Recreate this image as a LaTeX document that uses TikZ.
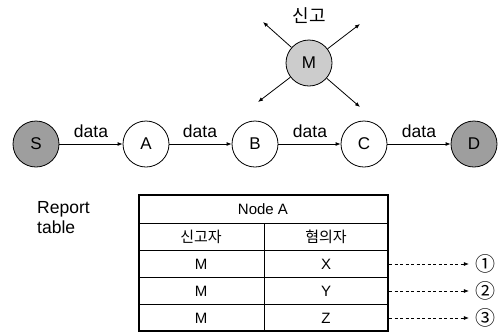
\documentclass[tikz,border=0pt]{standalone}
\usepackage{fontspec}
\setmainfont{Liberation Sans}
\newfontfamily\kr{Noto Sans CJK KR}
\usetikzlibrary{arrows.meta}
\begin{document}
\begin{tikzpicture}[x=1pt,y=-1pt,
  peer/.style={circle,draw,line width=0.8pt,minimum size=46pt,inner sep=0pt,font=\fontsize{17}{19}\selectfont},
  endpt/.style={peer,fill=black!38},
  rogue/.style={peer,fill=black!20},
  link/.style={line width=0.8pt,-{Latex[length=5pt,width=4pt]}},
  lbl/.style={font=\fontsize{17.5}{20}\selectfont,inner sep=0pt},
  cell/.style={font=\fontsize{15}{17}\selectfont,inner sep=0pt},
  krcell/.style={cell,font=\kr\fontsize{15}{17}\selectfont},
  num/.style={cell,font=\kr\fontsize{20}{22}\selectfont},
  ref/.style={line width=0.6pt,dash pattern=on 3pt off 2.5pt,shorten >=6pt,-{Latex[length=5pt,width=4pt]}}]
\useasboundingbox (0,0) rectangle (500,333);

% route nodes
\node[endpt] (S) at (36,144) {S};
\node[peer]  (A) at (146,144) {A};
\node[peer]  (B) at (255,144) {B};
\node[peer]  (C) at (364,144) {C};
\node[endpt] (D) at (474,144) {D};

\draw[link] (S) -- (A);
\draw[link] (A) -- (B);
\draw[link] (B) -- (C);
\draw[link] (C) -- (D);

\node[lbl] (d1) at (91,131) {data};
\node[lbl] (d2) at (200,131) {data};
\node[lbl] (d3) at (310,131) {data};
\node[lbl] (d4) at (419,131) {data};

% reporting node and its broadcast
\node[rogue] (M) at (309,63) {M};
\node[font=\kr\fontsize{18}{20}\selectfont,inner sep=0pt] (rep) at (309,16) {신고};
\coordinate (ul) at (263,22);
\coordinate (ur) at (360,24);
\coordinate (ll) at (258,102);
\coordinate (lr) at (360,107);
\foreach \t in {ul,ur,ll,lr}
  \draw[link] (M) -- (\t);

% report table
\node[lbl,align=left,anchor=north west] (cap) at (37,201) {Report\\table};
\draw[line width=1.6pt] (139,195) rectangle (388,331);
\draw[line width=0.8pt] (139,223) -- (388,223);
\draw[line width=0.8pt] (139,250) -- (388,250);
\draw[line width=0.8pt] (139,277) -- (388,277);
\draw[line width=0.8pt] (139,304) -- (388,304);
\draw[line width=0.8pt] (264,223) -- (264,331);

\node[cell] (hd) at (263,209) {Node A};
\node[krcell] (h1) at (201,237) {신고자};
\node[krcell] (h2) at (326,237) {혐의자};
\node[cell] (r1a) at (201,264) {M};
\node[cell] (r1b) at (326,264) {X};
\node[cell] (r2a) at (201,291) {M};
\node[cell] (r2b) at (326,291) {Y};
\node[cell] (r3a) at (201,318) {M};
\node[cell] (r3b) at (326,318) {Z};

% row references
\coordinate (e1) at (389,264);
\coordinate (e2) at (389,291);
\coordinate (e3) at (389,318);
\node[num] (n1) at (485,264) {①};
\node[num] (n2) at (485,291) {②};
\node[num] (n3) at (485,318) {③};
\draw[ref] (e1) -- (n1.west);
\draw[ref] (e2) -- (n2.west);
\draw[ref] (e3) -- (n3.west);
\end{tikzpicture}
\end{document}
